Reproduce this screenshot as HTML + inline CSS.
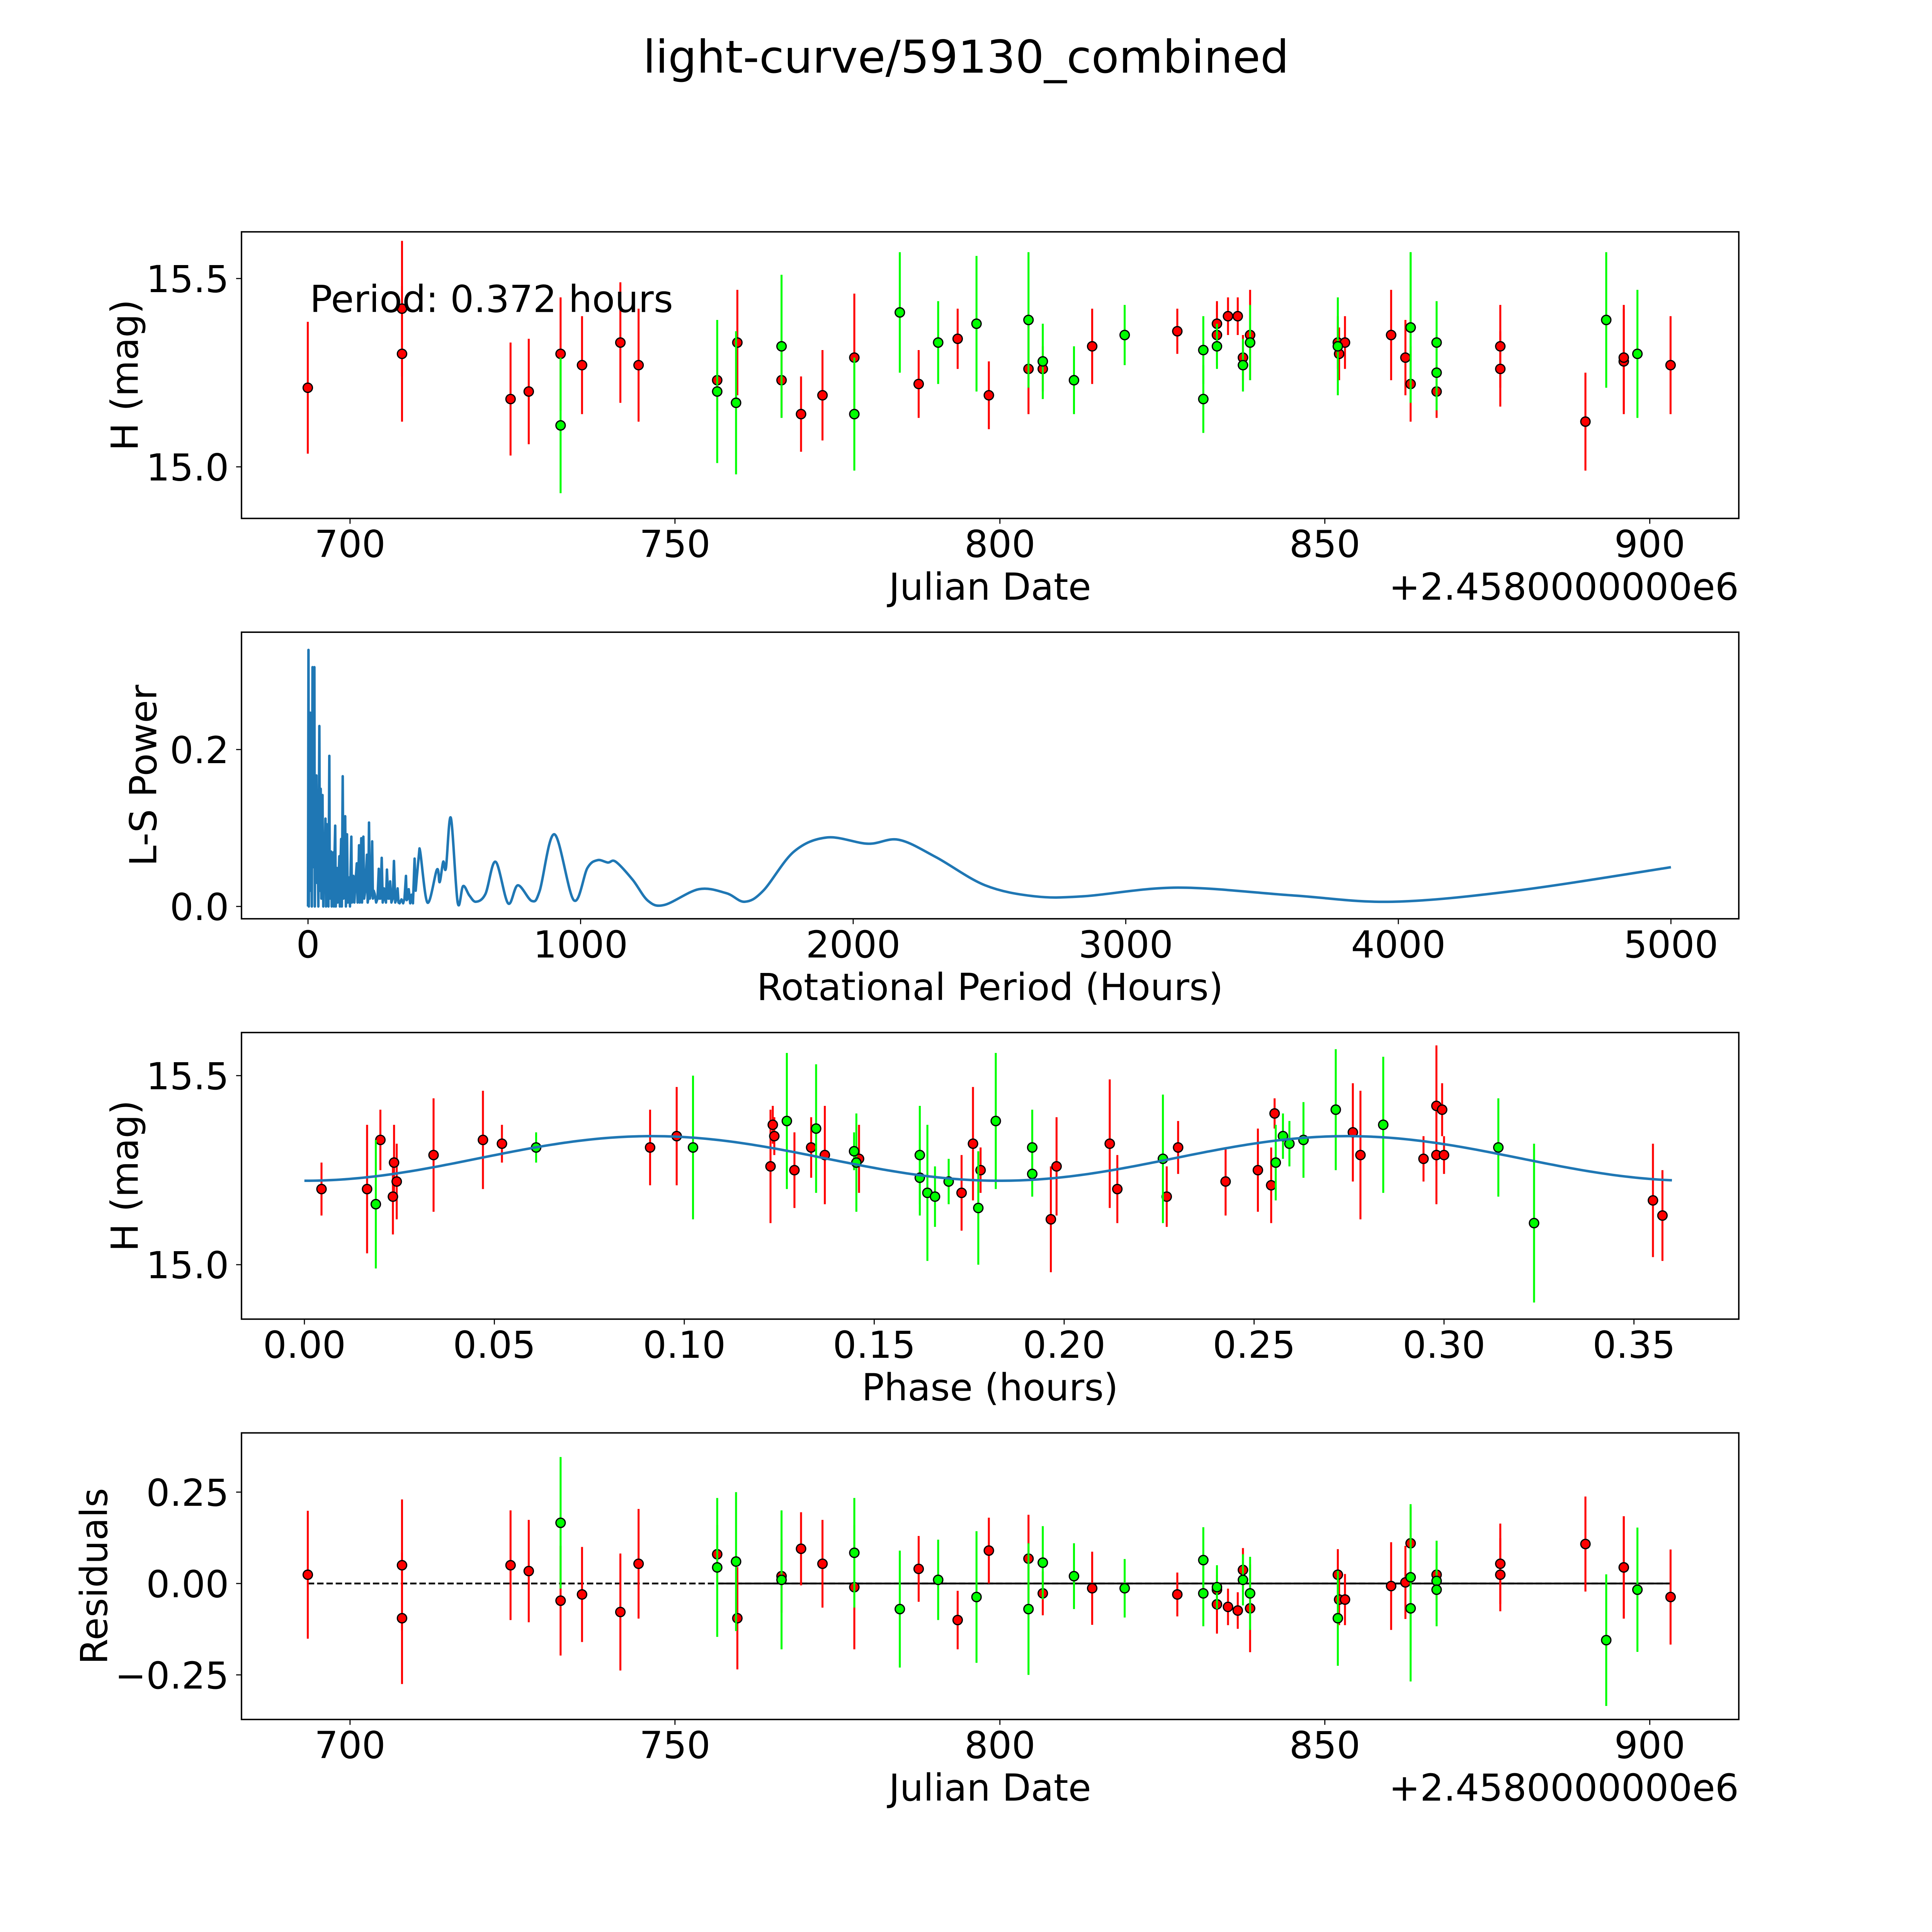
<!DOCTYPE html>
<html><head><meta charset="utf-8"><style>
html,body{margin:0;padding:0;background:#fff;overflow:hidden;}
svg{display:block;width:100vw;height:100vh;font-family:"DejaVu Sans","Liberation Sans",sans-serif;}
</style></head><body>
<svg id="fig" xmlns="http://www.w3.org/2000/svg" viewBox="0 0 5400 5400" preserveAspectRatio="none">
<rect width="5400" height="5400" fill="#fff"/>
<text x="2700" y="203" font-size="126" text-anchor="middle">light-curve/59130_combined</text>
</svg>
<script>
// ---------- data ----------
const redJD = [693.5,708,708,724.7,727.5,732.4,735.7,741.6,744.4,756.5,759.6,766.4,769.4,772.7,777.6,787.5,793.5,798.3,804.4,806.6,814.2,827.3,833.4,833.4,835.1,836.6,837.4,838.5,852,852.2,853.1,860.2,862.4,863.2,867.2,877,877,890.1,896,896,903.2];
const redMag = [15.21,15.42,15.30,15.18,15.20,15.30,15.27,15.33,15.27,15.23,15.33,15.23,15.14,15.19,15.29,15.22,15.34,15.19,15.26,15.26,15.32,15.36,15.35,15.38,15.40,15.40,15.29,15.35,15.33,15.30,15.33,15.35,15.29,15.22,15.20,15.32,15.26,15.12,15.28,15.29,15.27];
const redErr = [0.175,0.18,0.18,0.15,0.14,0.15,0.13,0.16,0.15,0.08,0.14,0.1,0.1,0.12,0.17,0.09,0.08,0.09,0.12,0.06,0.1,0.06,0.08,0.06,0.05,0.05,0.06,0.12,0.07,0.07,0.07,0.12,0.1,0.1,0.07,0.11,0.1,0.13,0.14,0.14,0.13];
const redRes = [0.024,0.05,-0.095,0.05,0.034,-0.047,-0.03,-0.078,0.054,0.08,-0.095,0.02,0.095,0.054,-0.01,0.04,-0.1,0.09,0.068,-0.027,-0.013,-0.03,-0.057,-0.017,-0.064,-0.074,0.037,-0.068,0.024,-0.044,-0.044,-0.007,0.003,0.11,0.024,0.054,0.024,0.108,0.044,0.044,-0.037];
const greenJD = [732.4,756.5,759.4,766.4,777.6,784.6,790.5,796.4,804.4,806.6,811.4,819.2,831.3,831.3,833.4,837.4,838.5,852,863.2,863.2,867.2,867.2,893.3,898.1];
const greenMag = [15.11,15.20,15.17,15.32,15.14,15.41,15.33,15.38,15.39,15.28,15.23,15.35,15.31,15.18,15.32,15.27,15.33,15.32,15.37,15.37,15.33,15.25,15.39,15.30];
const greenErr = [0.18,0.19,0.19,0.19,0.15,0.16,0.11,0.18,0.18,0.1,0.09,0.08,0.09,0.09,0.06,0.07,0.1,0.13,0.2,0.2,0.11,0.1,0.18,0.17];
const greenRes = [0.166,0.044,0.06,0.01,0.084,-0.07,0.01,-0.037,-0.07,0.057,0.02,-0.013,0.064,-0.027,-0.01,0.01,-0.027,-0.095,-0.068,0.017,0.007,-0.017,-0.155,-0.017];

const redPhase = [0.0045,0.0165,0.020,0.0236,0.0233,0.0243,0.034,0.047,0.052,0.091,0.098,0.1227,0.1233,0.1237,0.129,0.1334,0.137,0.146,0.173,0.176,0.178,0.1965,0.198,0.212,0.214,0.227,0.230,0.2425,0.251,0.2545,0.2554,0.276,0.278,0.2946,0.298,0.298,0.2995,0.30,0.355,0.3575];
const redPhaseMag = [15.20,15.20,15.33,15.27,15.18,15.22,15.29,15.33,15.32,15.31,15.34,15.26,15.37,15.34,15.25,15.31,15.29,15.28,15.19,15.32,15.25,15.12,15.26,15.32,15.20,15.18,15.31,15.22,15.25,15.21,15.40,15.35,15.29,15.28,15.29,15.42,15.41,15.29,15.17,15.13];
const redPhaseErr = [0.07,0.17,0.08,0.1,0.1,0.1,0.15,0.13,0.05,0.1,0.13,0.15,0.05,0.05,0.1,0.08,0.13,0.09,0.1,0.15,0.06,0.14,0.13,0.17,0.09,0.08,0.07,0.09,0.11,0.1,0.04,0.13,0.17,0.06,0.13,0.16,0.07,0.05,0.15,0.12];
const greenPhase = [0.0188,0.061,0.1023,0.127,0.1347,0.1447,0.1453,0.162,0.162,0.164,0.166,0.1696,0.1774,0.182,0.1916,0.1916,0.226,0.2557,0.2576,0.2593,0.263,0.2715,0.284,0.3143,0.3237];
const greenPhaseMag = [15.16,15.31,15.31,15.38,15.36,15.30,15.27,15.29,15.23,15.19,15.18,15.22,15.15,15.38,15.31,15.24,15.28,15.27,15.34,15.32,15.33,15.41,15.37,15.31,15.11];
const greenPhaseErr = [0.17,0.04,0.19,0.18,0.17,0.05,0.13,0.13,0.1,0.18,0.08,0.06,0.15,0.18,0.1,0.06,0.17,0.1,0.06,0.06,0.1,0.16,0.18,0.13,0.21];
const modelMean = [15.281];
const modelAmp = [0.059];
const modelPeriod = [0.366];
const modelRange = [0, 0.36];

const lsPeriod = [0,1.7,3,5,8.3,10,12,14,16.6,18,20,23.3,25,27,30.8,33,35,38,41.6,44,46.6,49,51,53.2,56,58,61,64,66,68.2,70,72,75,78.2,80,82,84.9,87,89,91,93.2,95,97,99.8,102,104,106.5,109,112,114.8,117,119,121.5,124,127.3,130,133,136.4,139,141,143.1,146,149,151.4,154,156,158.9,161,163,166.4,170,174,178.9,182,184,187.2,190,192,195.5,198,200,203,206,210,216.3,219,221,223.8,227,232,235.4,238,241,244.6,250,255,259.6,262,266,270.4,274,278.7,282,286,289.5,294,298,301.2,306,311,315.3,320,325,328.6,332,336,342.8,349,354,359.4,362,366,369.4,375,380,385,391,395,399.3,
 409,438,473,483,496,506,524,549,569,592,616,651,688,734,770,821,850,904,975,1025,1062,1100,1129,1191,1248,1308,1434,1534,1602,1670,1783,1905,2054,2167,2303,2484,2665,2846,3190,3615,3977,4430,5000];
const lsPower = [0,0.327,0,0.1,0.247,0.02,0.15,0,0.305,0.05,0.2,0.305,0,0.12,0.167,0.03,0.1,0,0.23,0.02,0.15,0.01,0.09,0.142,0,0.07,0.04,0.112,0,0.105,0.02,0.08,0,0.192,0.01,0.06,0.07,0,0.05,0.01,0.069,0,0.06,0.103,0,0.04,0.049,0.005,0.03,0.064,0,0.05,0.086,0,0.166,0.01,0.04,0.115,0,0.03,0.092,0.005,0.02,0.037,0,0.04,0.089,0.005,0.02,0.039,0.005,0.03,0.055,0.005,0.02,0.078,0.005,0.03,0.087,0.005,0.03,0.089,0.01,0.02,0.066,0.005,0.01,0.107,0.01,0.02,0.083,0.01,0.02,0.016,0.005,0.01,0.048,0.01,0.01,0.062,0.005,0.023,0.01,0.005,0.047,0.01,0.01,0.032,0.005,0.01,0.058,0.005,0.01,0.023,0.005,0.004,0.009,0.004,0.01,0.039,0.008,0.01,0.022,0.004,0.015,0.004,0.061,0.02,0.038,
 0.074,0.005,0.047,0.031,0.057,0.049,0.113,0.005,0.026,0.014,0.006,0.016,0.057,0.004,0.027,0.007,0.020,0.092,0.008,0.049,0.059,0.056,0.057,0.034,0.007,0.002,0.022,0.017,0.006,0.02,0.07,0.088,0.08,0.085,0.063,0.027,0.013,0.013,0.024,0.014,0.006,0.02,0.05];

const jdTicks = [700,750,800,850,900];
const magTicks = [15.0,15.5];
const magTickLabels = ["15.0","15.5"];
const lsXTicks = [0,1000,2000,3000,4000,5000];
const lsYTicks = [0.0,0.2];
const lsYTickLabels = ["0.0","0.2"];
const phaseTicks = [0,0.05,0.10,0.15,0.20,0.25,0.30,0.35];
const phaseTickLabels = ["0.00","0.05","0.10","0.15","0.20","0.25","0.30","0.35"];
const resTicks = [-0.25,0,0.25];
const resTickLabels = ["\u22120.25","0.00","0.25"];

// ---------- layout ----------
const NS = "http://www.w3.org/2000/svg";
const svg = document.getElementById('fig');
const L = 675, R = 4860;
const tops = [648,1767,2886,4005], H = 801;
function mk(tag, attrs, parent){const e=document.createElementNS(NS,tag);for(const k in attrs)e.setAttribute(k,attrs[k]);(parent||svg).appendChild(e);return e;}
function scale(d0,d1,p0,p1){return v=>p0+(v-d0)/(d1-d0)*(p1-p0);}
function axes(i, xlim, ylim, name){
  const g = mk('g',{});
  
  
  const t=tops[i], b=t+H;
  return {g, t, b, x:scale(xlim[0],xlim[1],L,R), y:scale(ylim[0],ylim[1],b,t)};
}
function frame(ax){
  const r = mk('rect',{x:L,y:ax.t,width:R-L,height:H,fill:'none',stroke:'#000','stroke-width':4},ax.g);
  
  
}
function xticks(ax, vals, labels){
  vals.forEach((v,k)=>{
    const px=ax.x(v);
    mk('line',{x1:px,x2:px,y1:ax.b,y2:ax.b+15,stroke:'#000','stroke-width':3},ax.g);
    const tx=mk('text',{x:px,y:ax.b+108,'font-size':104,'text-anchor':'middle'},ax.g);
    tx.textContent=labels?labels[k]:String(v);
    
    
  });
}
function yticks(ax, vals, labels){
  vals.forEach((v,k)=>{
    const py=ax.y(v);
    mk('line',{x1:L-15,x2:L,y1:py,y2:py,stroke:'#000','stroke-width':3},ax.g);
    const tx=mk('text',{x:640,y:py+38,'font-size':104,'text-anchor':'end'},ax.g);
    tx.textContent=labels[k];
    
    
  });
}
function label(ax, text, x, y, rot, name, anchor){
  const tx=mk('text',{x:x,y:y,'font-size':104,'text-anchor':anchor||'middle'},ax.g);
  if(rot) tx.setAttribute('transform','rotate(-90 '+x+' '+y+')');
  tx.textContent=text;
  
  
}
function errpoints(ax, xs, ys, es, color, name){
  const g=mk('g',{},ax.g);
  
  
  const n=Math.min(xs.length,ys.length,es.length);
  for(let k=0;k<n;k++){
    const px=ax.x(xs[k]);
    const l=mk('line',{x1:px,x2:px,y1:ax.y(ys[k]-es[k]),y2:ax.y(ys[k]+es[k]),stroke:color,'stroke-width':5.5},g);
    
    
  }
  for(let k=0;k<n;k++){
    const c=mk('circle',{cx:ax.x(xs[k]),cy:ax.y(ys[k]),r:13,fill:color,stroke:'#000','stroke-width':3.5},g);
    
    
  }
}

// ---- Panel 1: light curve ----
const jdLim=[683.3,913.7];
const a1=axes(0,jdLim,[14.863,15.624],'light-curve-panel');
errpoints(a1,redJD,redMag,redErr,'#ff0000','red-filter-points');
errpoints(a1,greenJD,greenMag,greenErr,'#00ff00','green-filter-points');
frame(a1); xticks(a1,jdTicks); yticks(a1,magTicks,magTickLabels);
label(a1,'Julian Date',2767,a1.b+227,false,'x-axis-title');
label(a1,'+2.4580000000e6',R,a1.b+227,false,'x-offset-text','end');
label(a1,'H (mag)',385,(a1.t+a1.b)/2,true,'y-axis-title');
label(a1,'Period: 0.372 hours',866,872,false,'period-annotation','start');

// ---- Panel 2: periodogram ----
const a2=axes(1,[-244,5249],[-0.0157,0.3496],'periodogram-panel');
{
  const n=Math.min(lsPeriod.length,lsPower.length);
  const P=[];
  for(let k=0;k<n;k++) P.push([a2.x(lsPeriod[k]),a2.y(lsPower[k]),lsPeriod[k]]);
  let d='M'+P[0][0].toFixed(1)+','+P[0][1].toFixed(1);
  for(let k=1;k<n;k++){
    if(P[k-1][2]<400){ d+='L'+P[k][0].toFixed(1)+','+P[k][1].toFixed(1); continue; }
    const p0=P[Math.max(k-2,0)],p1=P[k-1],p2=P[k],p3=P[Math.min(k+1,n-1)];
    const c1x=p1[0]+(p2[0]-p0[0])/6, c1y=p1[1]+(p2[1]-p0[1])/6;
    const c2x=p2[0]-(p3[0]-p1[0])/6, c2y=p2[1]-(p3[1]-p1[1])/6;
    d+='C'+c1x.toFixed(1)+','+c1y.toFixed(1)+' '+c2x.toFixed(1)+','+c2y.toFixed(1)+' '+p2[0].toFixed(1)+','+p2[1].toFixed(1);
  }
  const p=mk('path',{d:d,fill:'none',stroke:'#1f77b4','stroke-width':7,'stroke-linejoin':'round'},a2.g);
  
  
}
frame(a2); xticks(a2,lsXTicks); yticks(a2,lsYTicks,lsYTickLabels);
label(a2,'Rotational Period (Hours)',2767,a2.b+227,false,'x-axis-title');
label(a2,'L-S Power',437,(a2.t+a2.b)/2,true,'y-axis-title');

// ---- Panel 3: phase-folded ----
const a3=axes(2,[-0.01656,0.3776],[14.856,15.614],'phase-panel');
errpoints(a3,redPhase,redPhaseMag,redPhaseErr,'#ff0000','red-phase-points');
errpoints(a3,greenPhase,greenPhaseMag,greenPhaseErr,'#00ff00','green-phase-points');
{
  let d='';
  const N=300;
  for(let k=0;k<=N;k++){
    const p=modelRange[0]+(modelRange[1]-modelRange[0])*k/N;
    const v=modelMean[0]-modelAmp[0]*Math.cos(2*Math.PI*p/(modelPeriod[0]/2));
    d+=(k?'L':'M')+a3.x(p).toFixed(1)+','+a3.y(v).toFixed(1);
  }
  const p=mk('path',{d:d,fill:'none',stroke:'#1f77b4','stroke-width':7},a3.g);
  
  
}
frame(a3); xticks(a3,phaseTicks,phaseTickLabels); yticks(a3,magTicks,magTickLabels);
label(a3,'Phase (hours)',2767,a3.b+227,false,'x-axis-title');
label(a3,'H (mag)',385,(a3.t+a3.b)/2,true,'y-axis-title');

// ---- Panel 4: residuals ----
const a4=axes(3,jdLim,[-0.372,0.412],'residuals-panel');
{
  const l1=mk('line',{x1:a4.x(redJD[0]),x2:a4.x(redJD[redJD.length-1]),y1:a4.y(0),y2:a4.y(0),stroke:'#000','stroke-width':5,'stroke-dasharray':'18 8'},a4.g);
  
  
  const l2=mk('line',{x1:a4.x(greenJD[1]),x2:a4.x(redJD[redJD.length-1]),y1:a4.y(0),y2:a4.y(0),stroke:'#000','stroke-width':5},a4.g);
  
  
}
errpoints(a4,redJD,redRes,redErr,'#ff0000','red-residual-points');
errpoints(a4,greenJD,greenRes,greenErr,'#00ff00','green-residual-points');
frame(a4); xticks(a4,jdTicks); yticks(a4,resTicks,resTickLabels);
label(a4,'Julian Date',2767,a4.b+227,false,'x-axis-title');
label(a4,'+2.4580000000e6',R,a4.b+227,false,'x-offset-text','end');
label(a4,'Residuals',299,(a4.t+a4.b)/2,true,'y-axis-title');
</script>
</body></html>
